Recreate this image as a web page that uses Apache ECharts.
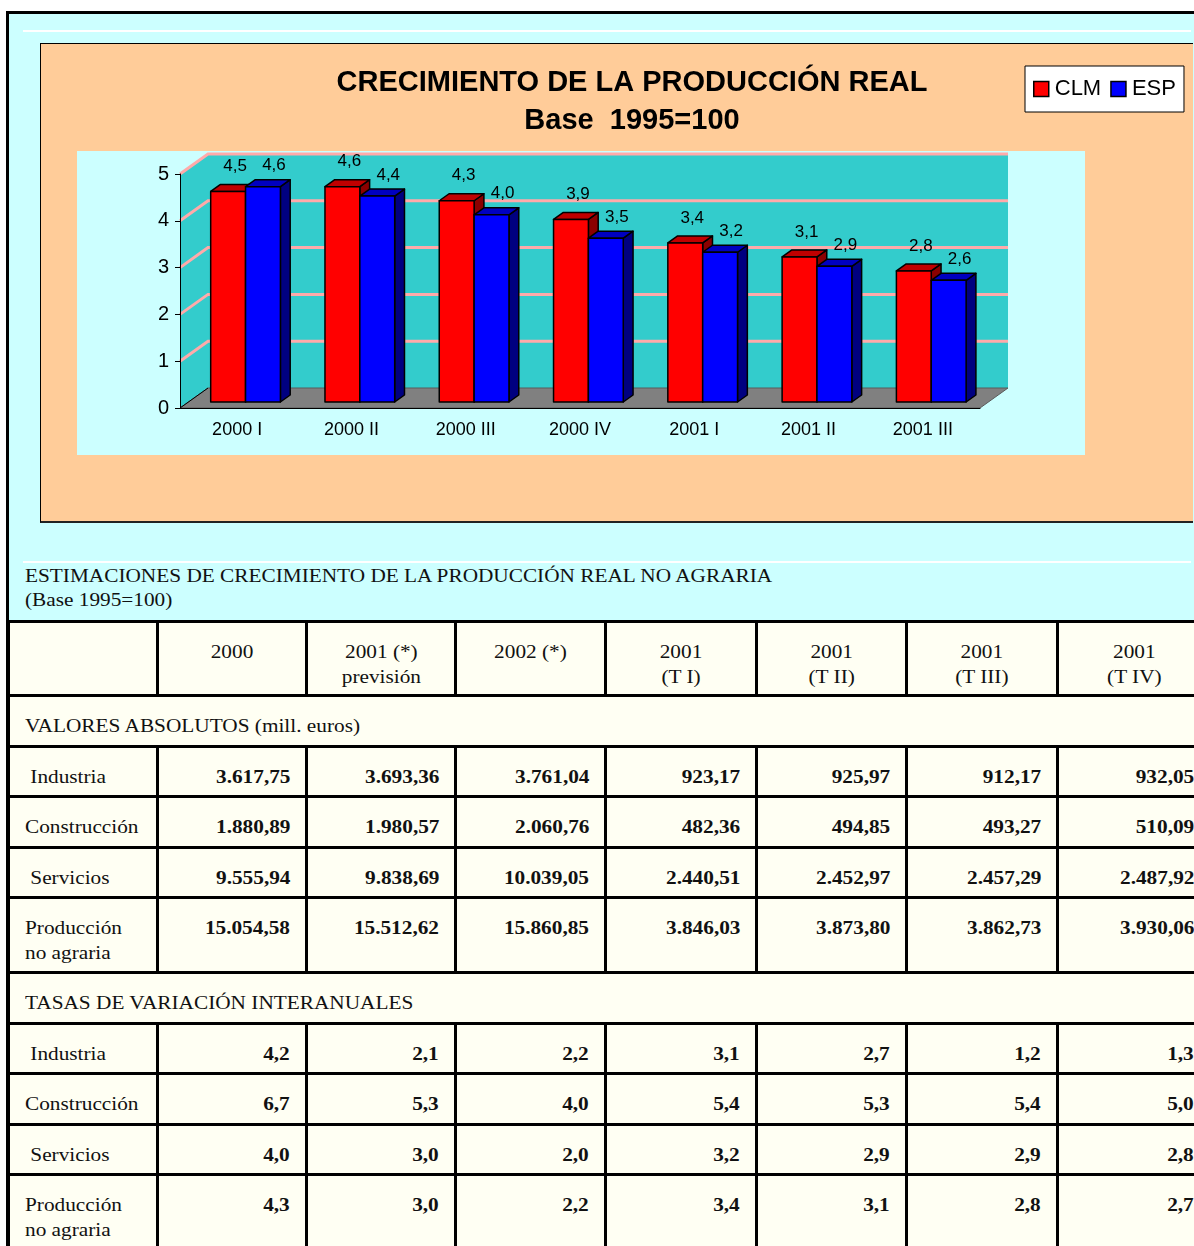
<!DOCTYPE html>
<html>
<head>
<meta charset="utf-8">
<script src="https://cdn.jsdelivr.net/npm/echarts@6/dist/echarts.min.js"></script>
<style>
  body { margin: 0; width: 1194px; height: 1246px; overflow: hidden; background: #fff; position: relative; font-family: "Liberation Serif", serif; }
  #frame { position: absolute; left: 6px; top: 11px; width: 1200px; height: 1240px; border-left: 3px solid #000; border-top: 3px solid #000; background: #CCFFFF; }
  .wline { position: absolute; height: 2px; background: #fff; }
  #peach { position: absolute; left: 40px; top: 43px; width: 1152px; height: 477px; background: #FFCC99; border-left: 1px solid #000; border-top: 1px solid #000; border-bottom: 2px solid #222; }
  #plotbg { position: absolute; left: 77px; top: 151px; width: 1008px; height: 304px; background: #CCFFFF; }
  #chart { position: absolute; left: 0; top: 0; width: 1194px; height: 540px; }
  #caption { position: absolute; left: 25px; top: 564px; font-size: 19px; line-height: 24px; color: #111; transform: scaleX(1.12); transform-origin: left top; white-space: nowrap; }
  #tbl { position: absolute; left: 7px; top: 620px; border-collapse: collapse; table-layout: fixed; width: 1202px; background: #FFFFF3; font-size: 19px; color: #111; }
  #tbl td { border: 3px solid #000; vertical-align: top; padding: 16px 15px 0 15px; line-height: 25px; white-space: pre; }
  #tbl td span { display: inline-block; transform: scaleX(1.12); transform-origin: left top; }
  #tbl td.h { text-align: center; }
  #tbl td.h span { transform-origin: center top; }
  #tbl td.n { text-align: right; font-weight: bold; }
  #tbl td.n span { transform-origin: right top; }
</style>
</head>
<body>
<div id="frame"></div>
<div class="wline" style="left:23px; top:30px; width:1168px;"></div>
<div id="peach"></div>
<div id="plotbg"></div>
<div id="chart"></div>
<div class="wline" style="left:23px; top:561px; width:1168px;"></div>
<div id="caption">ESTIMACIONES DE CRECIMIENTO DE LA PRODUCCIÓN REAL NO AGRARIA<br>(Base 1995=100)</div>
<table id="tbl"></table>

<script>
// datos del gráfico
var categories = ['2000 I', '2000 II', '2000 III', '2000 IV', '2001 I', '2001 II', '2001 III'];
var clmValues = [4.5, 4.6, 4.3, 3.9, 3.4, 3.1, 2.8];
var espValues = [4.6, 4.4, 4.0, 3.5, 3.2, 2.9, 2.6];

// datos de la tabla
var tableColumns = ['2000', '2001 (*)\nprevisión', '2002 (*)', '2001\n(T I)', '2001\n(T II)', '2001\n(T III)', '2001\n(T IV)'];
var rowLabels = [' Industria', 'Construcción', ' Servicios', 'Producción\nno agraria'];
var absIndustria = [3617.75, 3693.36, 3761.04, 923.17, 925.97, 912.17, 932.05];
var absConstruccion = [1880.89, 1980.57, 2060.76, 482.36, 494.85, 493.27, 510.09];
var absServicios = [9555.94, 9838.69, 10039.05, 2440.51, 2452.97, 2457.29, 2487.92];
var absProduccion = [15054.58, 15512.62, 15860.85, 3846.03, 3873.80, 3862.73, 3930.06];
var rateIndustria = [4.2, 2.1, 2.2, 3.1, 2.7, 1.2, 1.3];
var rateConstruccion = [6.7, 5.3, 4.0, 5.4, 5.3, 5.4, 5.0];
var rateServicios = [4.0, 3.0, 2.0, 3.2, 2.9, 2.9, 2.8];
var rateProduccion = [4.3, 3.0, 2.2, 3.4, 3.1, 2.8, 2.7];

function fmtEs(v, dec) {
  var parts = v.toFixed(dec).split('.');
  var ent = parts[0].replace(/\B(?=(\d{3})+(?!\d))/g, '.');
  return parts.length > 1 ? ent + ',' + parts[1] : ent;
}

// efecto 3D
var DX = 28, DY = -20;

function renderWalls(params, api) {
  var cs = params.coordSys;
  var x0 = cs.x, x1 = cs.x + cs.width, y0 = cs.y, y1 = cs.y + cs.height;
  var children = [];
  children.push({ type: 'polygon', shape: { points: [[x0, y1], [x0 + DX, y1 + DY], [x0 + DX, y0 + DY], [x0, y0]] }, style: { fill: '#33CCCC' } });
  children.push({ type: 'rect', shape: { x: x0 + DX, y: y0 + DY, width: cs.width, height: cs.height }, style: { fill: '#33CCCC' } });
  for (var v = 1; v <= 5; v++) {
    var y = api.coord([0, v])[1];
    children.push({ type: 'polyline', shape: { points: [[x0, y], [x0 + DX, y + DY], [x1 + DX, y + DY]] }, style: { stroke: '#FFAAAA', lineWidth: 3, fill: null } });
  }
  children.push({ type: 'polygon', shape: { points: [[x0, y1], [x1, y1], [x1 + DX, y1 + DY], [x0 + DX, y1 + DY]] }, style: { fill: '#808080', stroke: '#5a5a5a', lineWidth: 1 } });
  children.push({ type: 'line', shape: { x1: x0, y1: y1, x2: x0 + DX, y2: y1 + DY }, style: { stroke: '#000', lineWidth: 1 } });
  return { type: 'group', children: children };
}

function barRenderer(front, top, side, isLeft, labDx, labDy) {
  return function (params, api) {
    var idx = api.value(0), val = api.value(1);
    var base = api.coord([idx, 0]);
    var head = api.coord([idx, val]);
    var band = api.size([1, 0])[0];
    var bw = band * 0.305;
    var sx = DX * 0.3, sy = DY * 0.3;
    var dx = DX * 0.35, dy = DY * 0.35;
    var xl = (isLeft ? base[0] - bw : base[0]) + sx;
    var xr = xl + bw;
    var yb = base[1] + sy, yt = head[1] + sy;
    var st = { stroke: '#000', lineWidth: 1.5, lineJoin: 'round' };
    return {
      type: 'group',
      children: [
        { type: 'polygon', shape: { points: [[xr, yb], [xr + dx, yb + dy], [xr + dx, yt + dy], [xr, yt]] }, style: Object.assign({ fill: side }, st) },
        { type: 'polygon', shape: { points: [[xl, yt], [xr, yt], [xr + dx, yt + dy], [xl + dx, yt + dy]] }, style: Object.assign({ fill: top }, st) },
        { type: 'rect', shape: { x: xl, y: yt, width: bw, height: yb - yt }, style: Object.assign({ fill: front }, st) },
        { type: 'text', x: (xl + xr) / 2 + labDx, y: yt + labDy, style: { text: fmtEs(val, 1), fill: '#000', fontSize: 17, fontFamily: 'Liberation Sans', align: 'center', verticalAlign: 'middle' } }
      ]
    };
  };
}

var chart = echarts.init(document.getElementById('chart'));
chart.setOption({
  animation: false,
  backgroundColor: 'transparent',
  title: {
    text: 'CRECIMIENTO DE LA PRODUCCIÓN REAL\nBase  1995=100',
    left: 627, top: 59, textAlign: 'center',
    textStyle: { fontSize: 29, fontWeight: 'bold', fontFamily: 'Liberation Sans', color: '#000', lineHeight: 38 }
  },
  legend: {
    data: ['CLM', 'ESP'],
    left: 1025, top: 66,
    padding: [12, 8, 12, 8],
    itemGap: 9, itemWidth: 15, itemHeight: 15,
    icon: 'rect',
    backgroundColor: '#fff', borderColor: '#000', borderWidth: 1,
    itemStyle: { borderColor: '#000', borderWidth: 1.5 },
    textStyle: { fontSize: 22, fontFamily: 'Liberation Sans', color: '#000', padding: [0, 0, 0, 1] }
  },
  grid: { left: 180, top: 174, width: 800, height: 234 },
  xAxis: {
    type: 'category', data: categories, z: 10,
    axisLine: { lineStyle: { color: '#000', width: 1 } },
    axisTick: { length: 7, lineStyle: { color: '#000' } },
    axisLabel: { fontSize: 18, fontFamily: 'Liberation Sans', color: '#000', margin: 13 }
  },
  yAxis: {
    type: 'value', min: 0, max: 5, interval: 1, z: 10,
    splitLine: { show: false },
    axisLine: { show: true, lineStyle: { color: '#000', width: 1 } },
    axisTick: { show: true, length: 5, lineStyle: { color: '#000' } },
    axisLabel: { fontSize: 20, fontFamily: 'Liberation Sans', color: '#000', margin: 11 }
  },
  series: [
    { type: 'custom', name: 'walls', z: 1, silent: true, renderItem: renderWalls, data: [[0, 0]] },
    { type: 'custom', name: 'CLM', z: 3, itemStyle: { color: '#FF0000' }, renderItem: barRenderer('#FF0000', '#C00000', '#8B0000', true, 7, -25),
      data: clmValues.map(function (v, i) { return [i, v]; }) },
    { type: 'custom', name: 'ESP', z: 4, itemStyle: { color: '#0000FF' }, renderItem: barRenderer('#0000FF', '#0000C0', '#000080', false, 11, -21),
      data: espValues.map(function (v, i) { return [i, v]; }) }
  ]
});

// tabla
var colWidths = [149, 149, 149, 150, 151, 150, 151, 153];
function cell(cls, txt, extra) {
  return '<td' + (cls ? ' class="' + cls + '"' : '') + (extra || '') + '><span>' + txt + '</span></td>';
}
var html = '<colgroup>' + colWidths.map(function (w) { return '<col style="width:' + w + 'px">'; }).join('') + '</colgroup>';
html += '<tr style="height:74px"><td></td>' + tableColumns.map(function (c) { return cell('h', c); }).join('') + '</tr>';
var sections = [
  { title: 'VALORES ABSOLUTOS (mill. euros)', rows: [absIndustria, absConstruccion, absServicios, absProduccion], dec: 2 },
  { title: 'TASAS DE VARIACIÓN INTERANUALES', rows: [rateIndustria, rateConstruccion, rateServicios, rateProduccion], dec: 1 }
];
var rowHeights = [50, 51, 50, 75];
sections.forEach(function (sec) {
  html += '<tr style="height:51px">' + cell('', sec.title, ' colspan="8"') + '</tr>';
  sec.rows.forEach(function (vals, r) {
    html += '<tr style="height:' + rowHeights[r] + 'px">' + cell('', rowLabels[r]) +
      vals.map(function (v) { return cell('n', fmtEs(v, sec.dec)); }).join('') + '</tr>';
  });
});
document.getElementById('tbl').innerHTML = html;
</script>
</body>
</html>
